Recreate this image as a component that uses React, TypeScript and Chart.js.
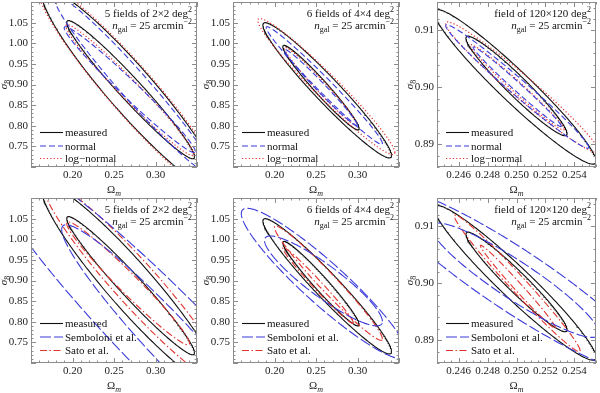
import React, { useEffect, useRef } from "react";
import { Chart, registerables } from "chart.js";
Chart.register(...registerables);

// ---------- axes ----------
const X_RANGE_WIDE = [0.15, 0.35];
const Y_RANGE_WIDE = [0.7, 1.1];
const X_RANGE_FINE = [0.2445, 0.2555];
const Y_RANGE_FINE = [0.886, 0.915];
const X_TICKS_WIDE = [0.2, 0.25, 0.3];
const Y_TICKS_WIDE = [0.75, 0.8, 0.85, 0.9, 0.95, 1.0, 1.05];
const X_TICKS_FINE = [0.246, 0.248, 0.25, 0.252, 0.254];
const Y_TICKS_FINE = [0.89, 0.9, 0.91];

// ---------- legends / captions ----------
const LEGEND_TOP = ["measured", "normal", "log\u2212normal"];
const LEGEND_BOTTOM = ["measured", "Semboloni et al.", "Sato et al."];
const CAPTION_5 = ["5 fields of 2\u00d72 deg", "2"];
const CAPTION_6 = ["6 fields of 4\u00d74 deg", "2"];
const CAPTION_120 = ["field of 120\u00d7120 deg", "2"];

// ---------- contours: [Ωm min, Ωm max, σ8 min, σ8 max, correlation] ----------
// 5 fields of 2x2 deg^2
const A_MEASURED_IN = [0.193, 0.347, 0.72, 1.055, -0.972];
const A_MEASURED_OUT = [0.163, 0.377, 0.643, 1.132, -0.942];
const A_NORMAL_IN = [0.19, 0.348, 0.735, 1.04, -0.982];
const A_NORMAL_OUT = [0.178, 0.37, 0.68, 1.115, -0.972];
const A_LOGNORMAL_IN = [0.192, 0.346, 0.728, 1.045, -0.978];
const A_LOGNORMAL_OUT = [0.158, 0.385, 0.625, 1.145, -0.945];
const A_SEMBOLONI_IN = [0.187, 0.453, 0.465, 1.035, -0.96];
const A_SEMBOLONI_OUT = [0.09, 0.55, 0.28, 1.22, -0.95];
const A_SATO_IN = [0.193, 0.341, 0.744, 1.042, -0.975];
const A_SATO_OUT = [0.165, 0.385, 0.65, 1.14, -0.95];
// 6 fields of 4x4 deg^2
const B_MEASURED_IN = [0.21, 0.302, 0.79, 0.995, -0.97];
const B_MEASURED_OUT = [0.186, 0.341, 0.722, 1.05, -0.965];
const B_NORMAL_IN = [0.212, 0.3, 0.8, 0.985, -0.985];
const B_NORMAL_OUT = [0.19, 0.33, 0.755, 1.04, -0.985];
const B_LOGNORMAL_IN = [0.212, 0.3, 0.8, 0.99, -0.98];
const B_LOGNORMAL_OUT = [0.18, 0.345, 0.73, 1.06, -0.97];
const B_SEMBOLONI_IN = [0.188, 0.33, 0.79, 1.008, -0.9];
const B_SEMBOLONI_OUT = [0.16, 0.36, 0.71, 1.075, -0.93];
const B_SATO_IN = [0.21, 0.295, 0.796, 0.98, -0.985];
const B_SATO_OUT = [0.2, 0.33, 0.755, 1.032, -0.975];
// field of 120x120 deg^2
const C_MEASURED_IN = [0.2465, 0.2535, 0.8915, 0.909, -0.96];
const C_MEASURED_OUT = [0.2443, 0.2555, 0.8865, 0.9137, -0.961];
const C_NORMAL_IN = [0.247, 0.2531, 0.8931, 0.9071, -0.99];
const C_NORMAL_OUT = [0.2451, 0.255, 0.8893, 0.911, -0.985];
const C_LOGNORMAL_IN = [0.2468, 0.2533, 0.8925, 0.9075, -0.985];
const C_LOGNORMAL_OUT = [0.2451, 0.2557, 0.8885, 0.9115, -0.975];
const C_SEMBOLONI_IN = [0.2441, 0.2557, 0.8905, 0.9106, -0.92];
const C_SEMBOLONI_OUT = [0.2404, 0.2594, 0.884, 0.917, -0.92];
const C_SATO_IN = [0.2475, 0.2527, 0.8921, 0.9067, -0.99];
const C_SATO_OUT = [0.2457, 0.2544, 0.888, 0.912, -0.985];

// ---------- styles ----------
const STYLES: Record<string, { color: string; dash: number[]; width: number }> = {
  measured: { color: "#111111", dash: [], width: 1.1 },
  normal: { color: "#3b3bd9", dash: [6, 3], width: 1.1 },
  lognormal: { color: "#e0342e", dash: [1.2, 2.2], width: 1.2 },
  semboloni: { color: "#3b3bd9", dash: [11, 3], width: 1.1 },
  sato: { color: "#e0342e", dash: [7, 2.5, 1.5, 2.5], width: 1.1 },
};

function contour(e: number[]) {
  const [x0, x1, y0, y1, rho] = e;
  const cx = (x0 + x1) / 2, ax = (x1 - x0) / 2;
  const cy = (y0 + y1) / 2, ay = (y1 - y0) / 2;
  const s = Math.sqrt(1 - rho * rho);
  const pts: { x: number; y: number }[] = [];
  const N = 360;
  for (let i = 0; i <= N; i++) {
    const t = (2 * Math.PI * i) / N;
    pts.push({
      x: cx + ax * Math.cos(t),
      y: cy + ay * (rho * Math.cos(t) + s * Math.sin(t)),
    });
  }
  return pts;
}

type Panel = {
  left: number; top: number; axisW: number; plotW: number; padR: number;
  xr: number[]; yr: number[]; xt: number[]; yt: number[]; xdec: number; ydec: number;
  xMinor: number; xMajor: number; yMinor: number; yMajor: number;
  caption: string[]; legend: string[]; legendKeys: string[]; legendRows: number[];
  families: [string, number[], number[]][];
};

const PLOT_H = 165;
const PAD_T = 2;
const AXIS_H = 30;

const wideAxes = { xr: X_RANGE_WIDE, yr: Y_RANGE_WIDE, xt: X_TICKS_WIDE, yt: Y_TICKS_WIDE, xdec: 2, ydec: 2, xMinor: 0.01, xMajor: 0.05, yMinor: 0.01, yMajor: 0.05 };
const fineAxes = { xr: X_RANGE_FINE, yr: Y_RANGE_FINE, xt: X_TICKS_FINE, yt: Y_TICKS_FINE, xdec: 3, ydec: 2, xMinor: 0.0005, xMajor: 0.002, yMinor: 0.002, yMajor: 0.01 };
const topLegend = { legend: LEGEND_TOP, legendKeys: ["measured", "normal", "lognormal"], legendRows: [130, 143.5, 156] };
const botLegend = { legend: LEGEND_BOTTOM, legendKeys: ["measured", "semboloni", "sato"], legendRows: [125, 138.5, 152] };

const PANELS: Panel[] = [
  { left: 0, top: 0, axisW: 31, plotW: 166, padR: 3, ...wideAxes, caption: CAPTION_5, ...topLegend,
    families: [["normal", A_NORMAL_IN, A_NORMAL_OUT], ["lognormal", A_LOGNORMAL_IN, A_LOGNORMAL_OUT], ["measured", A_MEASURED_IN, A_MEASURED_OUT]] },
  { left: 196, top: 0, axisW: 37, plotW: 166, padR: 1, ...wideAxes, caption: CAPTION_6, ...topLegend,
    families: [["normal", B_NORMAL_IN, B_NORMAL_OUT], ["lognormal", B_LOGNORMAL_IN, B_LOGNORMAL_OUT], ["measured", B_MEASURED_IN, B_MEASURED_OUT]] },
  { left: 400, top: 0, axisW: 37, plotW: 159, padR: 4, ...fineAxes, caption: CAPTION_120, ...topLegend,
    families: [["normal", C_NORMAL_IN, C_NORMAL_OUT], ["lognormal", C_LOGNORMAL_IN, C_LOGNORMAL_OUT], ["measured", C_MEASURED_IN, C_MEASURED_OUT]] },
  { left: 0, top: 196, axisW: 31, plotW: 166, padR: 3, ...wideAxes, caption: CAPTION_5, ...botLegend,
    families: [["semboloni", A_SEMBOLONI_IN, A_SEMBOLONI_OUT], ["sato", A_SATO_IN, A_SATO_OUT], ["measured", A_MEASURED_IN, A_MEASURED_OUT]] },
  { left: 196, top: 196, axisW: 37, plotW: 166, padR: 1, ...wideAxes, caption: CAPTION_6, ...botLegend,
    families: [["semboloni", B_SEMBOLONI_IN, B_SEMBOLONI_OUT], ["sato", B_SATO_IN, B_SATO_OUT], ["measured", B_MEASURED_IN, B_MEASURED_OUT]] },
  { left: 400, top: 196, axisW: 37, plotW: 159, padR: 4, ...fineAxes, caption: CAPTION_120, ...botLegend,
    families: [["semboloni", C_SEMBOLONI_IN, C_SEMBOLONI_OUT], ["sato", C_SATO_IN, C_SATO_OUT], ["measured", C_MEASURED_IN, C_MEASURED_OUT]] },
];

const FONT = '"Liberation Serif", "DejaVu Serif", serif';

type Piece = { t: string; kind?: "sup" | "sub"; italic?: boolean };
function drawPieces(ctx: CanvasRenderingContext2D, pieces: Piece[], x: number, y: number, align: "left" | "right" | "center") {
  const setFont = (p: Piece) => {
    const size = p.kind ? 8 : 11;
    ctx.font = `${p.italic ? "italic " : ""}${size}px ${FONT}`;
  };
  let total = 0;
  const widths = pieces.map((p) => { setFont(p); const w = ctx.measureText(p.t).width; total += w; return w; });
  let cx = align === "left" ? x : align === "right" ? x - total : x - total / 2;
  ctx.textBaseline = "alphabetic";
  ctx.textAlign = "left";
  pieces.forEach((p, i) => {
    setFont(p);
    const dy = p.kind === "sup" ? -5 : p.kind === "sub" ? 3 : 0;
    ctx.fillText(p.t, cx, y + dy);
    cx += widths[i];
  });
}

function makeDecor(p: Panel) {
  return {
    id: "decor",
    afterDatasetsDraw(chart: any) {
      const { ctx, chartArea: a, scales } = chart;
      const xs = scales.x, ys = scales.y;
      ctx.save();
      ctx.strokeStyle = "#8c8c8c";
      ctx.lineWidth = 1;
      ctx.setLineDash([]);
      ctx.strokeRect(a.left + 0.5, a.top + 0.5, a.right - a.left - 1, a.bottom - a.top - 1);
      ctx.beginPath();
      const eps = 1e-9;
      const n1 = Math.ceil((p.xr[0] - eps) / p.xMinor), n2 = Math.floor((p.xr[1] + eps) / p.xMinor);
      for (let k = n1; k <= n2; k++) {
        const v = k * p.xMinor;
        const r = v / p.xMajor;
        const major = Math.abs(r - Math.round(r)) < 1e-6;
        const len = major ? 5 : 2.5;
        const px = Math.round(xs.getPixelForValue(v)) + 0.5;
        ctx.moveTo(px, a.bottom); ctx.lineTo(px, a.bottom - len);
        ctx.moveTo(px, a.top); ctx.lineTo(px, a.top + len);
      }
      const m1 = Math.ceil((p.yr[0] - eps) / p.yMinor), m2 = Math.floor((p.yr[1] + eps) / p.yMinor);
      for (let k = m1; k <= m2; k++) {
        const v = k * p.yMinor;
        const r = v / p.yMajor;
        const major = Math.abs(r - Math.round(r)) < 1e-6;
        const len = major ? 5 : 2.5;
        const py = Math.round(ys.getPixelForValue(v)) + 0.5;
        ctx.moveTo(a.left, py); ctx.lineTo(a.left + len, py);
        ctx.moveTo(a.right, py); ctx.lineTo(a.right - len, py);
      }
      ctx.stroke();

      // caption
      ctx.fillStyle = "#111";
      drawPieces(ctx, [{ t: p.caption[0] }, { t: p.caption[1], kind: "sup" }], a.right - 5, a.top + 14.5, "right");
      drawPieces(ctx, [{ t: "n", italic: true }, { t: "gal", kind: "sub" }, { t: " = 25 arcmin" }, { t: "\u22122", kind: "sup" }], a.right - 5, a.top + 26.5, "right");

      // legend
      p.legend.forEach((label, i) => {
        const st = STYLES[p.legendKeys[i]];
        const y = a.top + p.legendRows[i];
        ctx.strokeStyle = st.color;
        ctx.lineWidth = st.width;
        ctx.setLineDash(st.dash);
        ctx.beginPath();
        ctx.moveTo(a.left + 9, y + 0.5);
        ctx.lineTo(a.left + 32, y + 0.5);
        ctx.stroke();
        ctx.setLineDash([]);
        ctx.fillStyle = "#111";
        drawPieces(ctx, [{ t: label }], a.left + 34, y + 4, "left");
      });

      // axis titles
      ctx.fillStyle = "#222";
      drawPieces(ctx, [{ t: "\u03a9" }, { t: "m", kind: "sub", italic: true }], (a.left + a.right) / 2, a.bottom + 26, "center");
      ctx.save();
      ctx.translate(a.left - 24, (a.top + a.bottom) / 2);
      ctx.rotate(-Math.PI / 2);
      drawPieces(ctx, [{ t: "\u03c3", italic: true }, { t: "8", kind: "sub" }], 0, 0, "center");
      ctx.restore();
      ctx.restore();
    },
  };
}

function zeroPad(s: any) {
  s.paddingTop = 0;
  s.paddingBottom = 0;
  s.paddingLeft = 0;
  s.paddingRight = 0;
}

function PanelChart({ p }: { p: Panel }) {
  const ref = useRef<HTMLCanvasElement>(null);
  const width = p.axisW + p.plotW + p.padR;
  const height = PAD_T + PLOT_H + AXIS_H;
  useEffect(() => {
    if (!ref.current) return;
    const datasets: any[] = [];
    p.families.forEach(([key, inner, outer]) => {
      const st = STYLES[key];
      [outer, inner].forEach((e) => {
        datasets.push({
          data: contour(e),
          showLine: true,
          pointRadius: 0,
          borderColor: st.color,
          borderWidth: st.width,
          borderDash: st.dash,
          fill: false,
          tension: 0,
          clip: 0,
        });
      });
    });
    const tickFont = { family: FONT, size: 11 };
    const chart = new Chart(ref.current, {
      type: "scatter",
      data: { datasets },
      options: {
        animation: false,
        responsive: false,
        events: [],
        layout: { padding: { top: PAD_T, right: p.padR, left: 0, bottom: 0 } },
        plugins: { legend: { display: false }, tooltip: { enabled: false } },
        scales: {
          x: {
            type: "linear", min: p.xr[0], max: p.xr[1],
            grid: { display: false, drawTicks: false }, border: { display: false },
            afterBuildTicks: (s: any) => { s.ticks = p.xt.map((v) => ({ value: v })); },
            afterFit: (s: any) => { s.height = AXIS_H; zeroPad(s); },
            ticks: { font: tickFont, color: "#222", padding: 2, maxRotation: 0, autoSkip: false,
              callback: (v: any) => Number(v).toFixed(p.xdec) },
          },
          y: {
            type: "linear", min: p.yr[0], max: p.yr[1],
            grid: { display: false, drawTicks: false }, border: { display: false },
            afterBuildTicks: (s: any) => { s.ticks = p.yt.map((v) => ({ value: v })); },
            afterFit: (s: any) => { s.width = p.axisW; zeroPad(s); },
            ticks: { font: tickFont, color: "#222", padding: 3, autoSkip: false,
              callback: (v: any) => Number(v).toFixed(p.ydec) },
          },
        },
      },
      plugins: [makeDecor(p)],
    } as any);
    return () => chart.destroy();
  }, [p]);
  return (
    <canvas
      ref={ref}
      width={width}
      height={height}
      style={{ position: "absolute", left: p.left, top: p.top, width, height }}
    />
  );
}

export default function App() {
  return (
    <div style={{ position: "absolute", left: 0, top: 0, width: 600, height: 393, background: "#fff", overflow: "hidden" }}>
      {PANELS.map((p, i) => (
        <PanelChart key={i} p={p} />
      ))}
    </div>
  );
}
